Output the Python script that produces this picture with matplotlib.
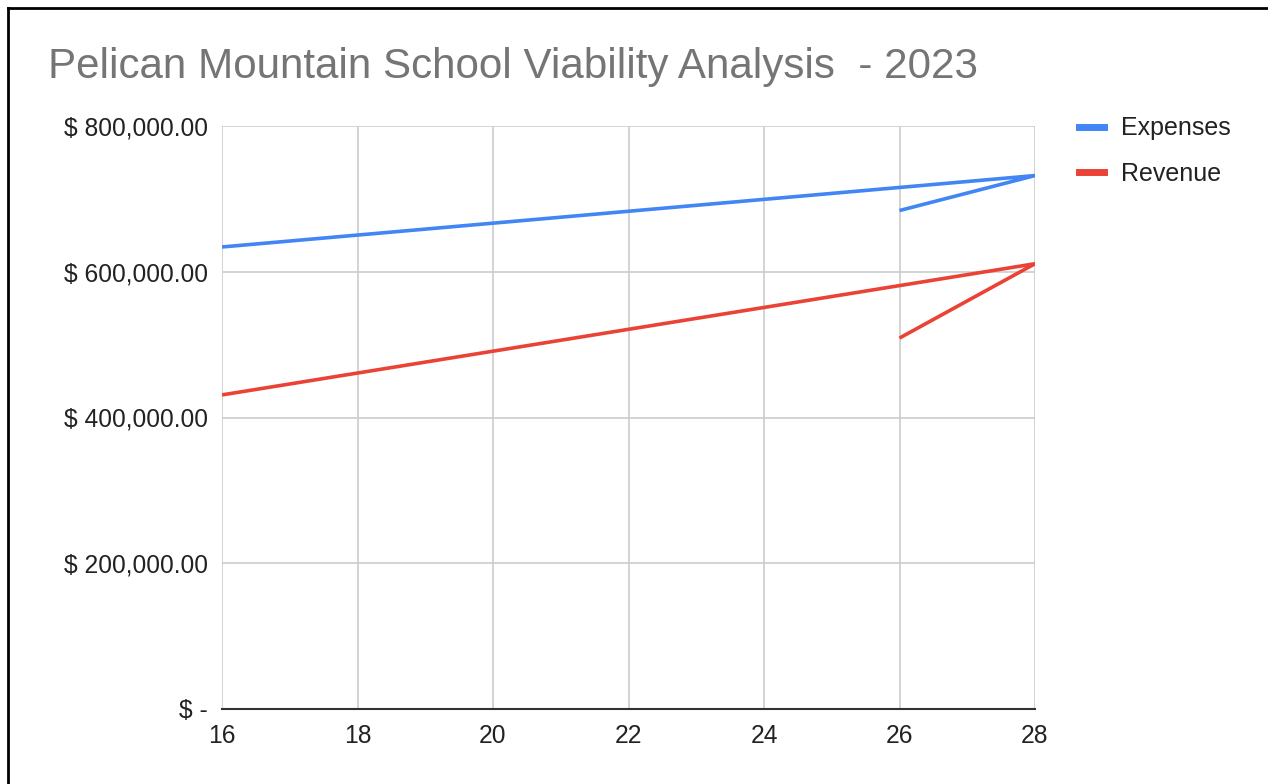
import matplotlib.pyplot as plt
from matplotlib.lines import Line2D
from matplotlib.ticker import FuncFormatter

plt.rcParams['font.family'] = ['Liberation Sans', 'DejaVu Sans']

# data (x values are in sheet order, not sorted)
students = [16, 28, 26]
expenses = [634000, 732000, 684000]
revenue = [431000, 611000, 509000]

x_ticks = [16, 18, 20, 22, 24, 26, 28]
y_ticks = [0, 200000, 400000, 600000, 800000]

title = 'Pelican Mountain School Viability Analysis  - 2023'


def money(v, pos):
    if v == 0:
        return '$ -'
    return '$ {:,.2f}'.format(v)


fig = plt.figure(figsize=(12.68, 7.84), dpi=100)
ax = fig.add_axes([222 / 1268, 1 - 709 / 784, (1035 - 222) / 1268, (709 - 126) / 784])

ax.plot(students, expenses, color='#4285F4', lw=2.6, label='Expenses', solid_capstyle='butt')
ax.plot(students, revenue, color='#EA4335', lw=2.6, label='Revenue', solid_capstyle='butt')

ax.set_xlim(16, 28)
ax.set_ylim(0, 800000)
ax.set_xticks(x_ticks)
ax.set_yticks(y_ticks)
ax.yaxis.set_major_formatter(FuncFormatter(money))
ax.grid(True, color='#cccccc', lw=1.2)
ax.set_axisbelow(True)

for s in ['top', 'right', 'left']:
    ax.spines[s].set_visible(False)
ax.spines['bottom'].set_color('#333333')
ax.spines['bottom'].set_linewidth(1.5)
ax.spines['bottom'].set_zorder(3)
ax.tick_params(axis='both', length=0, labelsize=17.7, colors='#222222')
ax.tick_params(axis='y', pad=10)
ax.tick_params(axis='x', pad=11)

fig.text(48 / 1268, 1 - 67 / 784, title, fontsize=30.3, color='#757575', va='center', ha='left')

handles = [Line2D([], [], color='#4285F4', lw=5), Line2D([], [], color='#EA4335', lw=5)]
fig.legend(handles, ['Expenses', 'Revenue'], loc='upper left', bbox_to_anchor=(1056 / 1268, 1 - 94 / 784),
           frameon=False, fontsize=18, handlelength=1.0, handletextpad=0.7, labelspacing=0.86,
           labelcolor='#222222')

# page border (left and top only, as in the screenshot)
fig.add_artist(Line2D([8 / 1268, 8 / 1268], [0, 1 - 8 / 784], color='black', lw=2, transform=fig.transFigure))
fig.add_artist(Line2D([8 / 1268, 1], [1 - 8 / 784, 1 - 8 / 784], color='black', lw=2, transform=fig.transFigure))

plt.savefig('out.png', dpi=100)
